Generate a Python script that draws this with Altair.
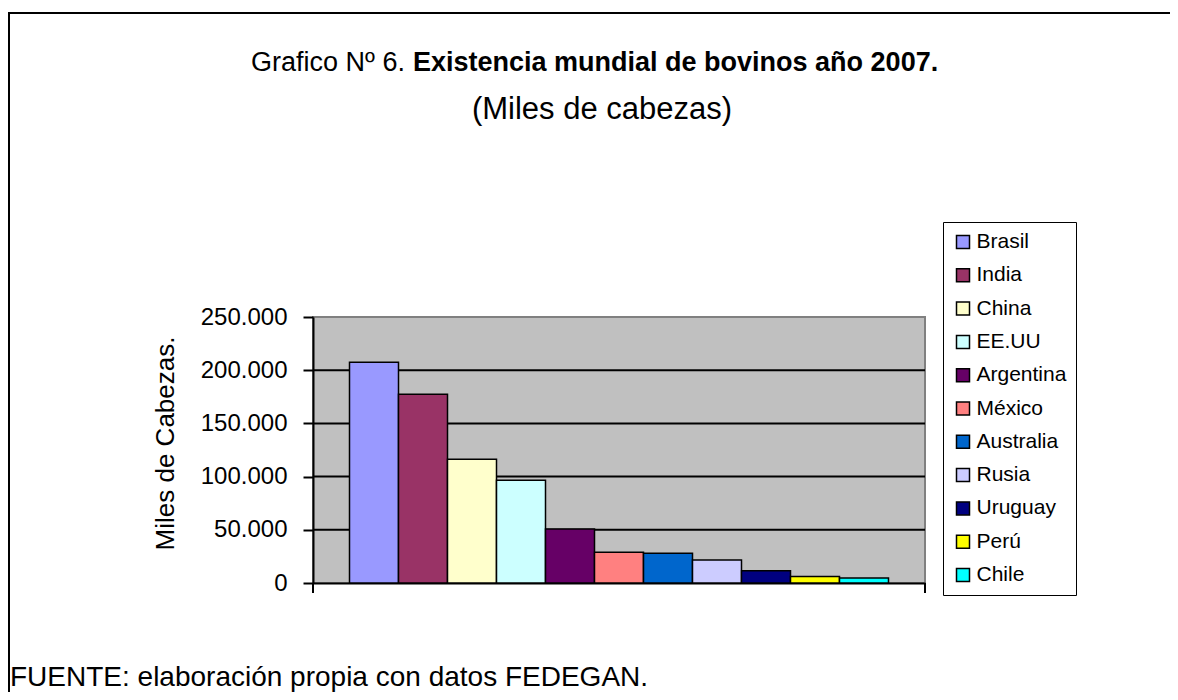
import altair as alt
import pandas as pd

countries = ["Brasil", "India", "China", "EE.UU", "Argentina", "México",
             "Australia", "Rusia", "Uruguay", "Perú", "Chile"]
heads = [207400, 177400, 116300, 96500, 50800, 28900, 27900, 21600, 11600, 6000, 4700]
colors = ["#9999FF", "#993366", "#FFFFCC", "#CCFFFF", "#660066", "#FF8080",
          "#0066CC", "#CCCCFF", "#000080", "#FFFF00", "#00FFFF"]
y_ticks = [0, 50000, 100000, 150000, 200000, 250000]
grid_values = [50000, 100000, 150000, 200000]

title_normal = "Grafico Nº 6."
title_bold = "Existencia mundial de bovinos año 2007."
subtitle = "(Miles de cabezas)"
y_title = "Miles de Cabezas."
source = "FUENTE: elaboración propia con datos FEDEGAN."

FONT = "Liberation Sans"
W, H = 612, 266

df = pd.DataFrame({"pais": countries, "miles": heads})

yscale = alt.Scale(domain=[0, 250000], nice=False)
yaxis = alt.Axis(values=y_ticks, title=y_title, grid=False,
                 labelExpr="replace(format(datum.value, ','), ',', '.')",
                 labelFont=FONT, labelFontSize=24, labelColor="black",
                 labelPadding=16,
                 tickColor="black", tickWidth=2, tickSize=10,
                 domainColor="black", domainWidth=2,
                 titleFont=FONT, titleFontSize=26, titleFontWeight="normal",
                 titleColor="black", titleAngle=270, titleX=-148, titleY=126,
                 titleAlign="center", titleBaseline="middle")

grid = alt.Chart(pd.DataFrame({"v": grid_values})).mark_rule(
    color="black", strokeWidth=2
).encode(y=alt.Y("v:Q", scale=yscale, axis=yaxis))

bars = alt.Chart(df).mark_bar(stroke="black", strokeWidth=1.5, opacity=1).encode(
    x=alt.X("pais:N", sort=countries,
            scale=alt.Scale(paddingInner=0, paddingOuter=0.745),
            axis=alt.Axis(labels=False, ticks=False, title=None,
                          domainColor="black", domainWidth=2)),
    y=alt.Y("miles:Q", scale=yscale, axis=yaxis),
    color=alt.Color("pais:N", sort=countries,
                    scale=alt.Scale(domain=countries, range=colors),
                    legend=alt.Legend(title=None, orient="none", legendX=630, legendY=-95,
                                      symbolType="square", symbolSize=169,
                                      symbolStrokeColor="black", symbolStrokeWidth=1.5,
                                      symbolOffset=0, labelOffset=3,
                                      labelFont=FONT, labelFontSize=21, labelColor="black",
                                      padding=9.5, rowPadding=11.3,
                                      strokeColor="black", fillColor="white")),
)

one = alt.Data(values=[{"k": 1}])

tick_l = alt.Chart(one).mark_rule(color="black", strokeWidth=2).encode(
    x=alt.value(0), y=alt.value(H), y2=alt.value(H + 10))
tick_r = alt.Chart(one).mark_rule(color="black", strokeWidth=2).encode(
    x=alt.value(W), y=alt.value(H), y2=alt.value(H + 10))

def text_layer(s, x, y, size, weight="normal", align="left"):
    return alt.Chart(pd.DataFrame({"t": [s]})).mark_text(
        font=FONT, fontSize=size, fontWeight=weight, align=align,
        baseline="alphabetic", color="black"
    ).encode(text="t:N", x=alt.value(x), y=alt.value(y))

t1 = text_layer(title_normal, 92, -246, 27, "normal", "right")
t2 = text_layer(title_bold, 100, -246, 27, "bold", "left")
t3 = text_layer(subtitle, 289, -198, 31, "normal", "center")
t4 = text_layer(source, -303, 369, 28, "normal", "left")

border = alt.Chart(one).mark_rect(filled=False, stroke="black", strokeWidth=2).encode(
    x=alt.value(-304), x2=alt.value(1000), y=alt.value(-304), y2=alt.value(600))

chart = alt.layer(grid, bars, tick_l, tick_r, t1, t2, t3, t4, border).properties(
    width=W, height=H,
    autosize=alt.AutoSizeParams(type="none"),
    padding={"left": 305, "top": 309, "right": 245, "bottom": 109},
).configure(
    font=FONT, background="white",
    view=alt.ViewConfig(fill="#C0C0C0", stroke="#808080", strokeWidth=2),
)

chart.save("out.html", embed_options={"renderer": "svg", "actions": False})
